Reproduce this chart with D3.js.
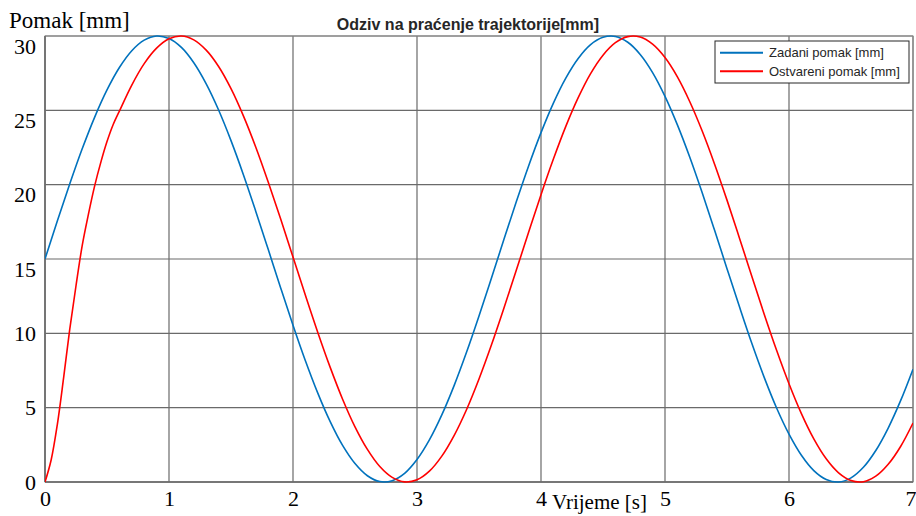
<!DOCTYPE html>
<html>
<head>
<meta charset="utf-8">
<script src="https://cdn.jsdelivr.net/npm/d3@7/dist/d3.min.js"></script>
<style>
  html, body { margin: 0; padding: 0; background: #fff; }
  svg { display: block; }
</style>
</head>
<body>
<svg id="chart" width="916" height="516"></svg>
<script>
// ---------- data ----------
const titleText = "Odziv na praćenje trajektorije[mm]";
const yLabelText = "Pomak [mm]";
const xLabelText = "Vrijeme [s]";
const seriesNames = ["Zadani pomak [mm]", "Ostvareni pomak [mm]"];
const xTicks = [0, 1, 2, 3, 4, 5, 6, 7];
const yTicks = [0, 5, 10, 15, 20, 25, 30];

// time grid of the set-point (step 0.1 s, 0 .. 7 s)
const timeZadani = d3.range(71).map(i => i / 10);
const zadani = [
  15.00, 17.57, 20.06, 22.41, 24.53, 26.37, 27.88, 29.01, 29.72, 30.00,
  29.83, 29.23, 28.20, 26.78, 25.02, 22.96, 20.67, 18.20, 15.65, 13.07,
  10.55, 8.16, 5.98, 4.06, 2.46, 1.24, 0.42, 0.03, 0.09, 0.58,
  1.51, 2.83, 4.51, 6.50, 8.74, 11.17, 13.71, 16.29, 18.83, 21.26,
  23.50, 25.49, 27.17, 28.49, 29.42, 29.91, 29.97, 29.58, 28.76, 27.54,
  25.94, 24.02, 21.84, 19.45, 16.93, 14.35, 11.80, 9.33, 7.04, 4.98,
  3.22, 1.80, 0.77, 0.17, 0.00, 0.28, 0.99, 2.12, 3.63, 5.47,
  7.59
];

// response: finer samples during the start-up transient, then 0.1 s
const timeOstvareni = [0, 0.05, 0.1, 0.15, 0.2, 0.25, 0.3, 0.35, 0.4, 0.45, 0.5, 0.55]
  .concat(d3.range(6, 71).map(i => i / 10));
const ostvareni = [
  0.00, 1.50, 3.90, 7.00, 10.30, 13.20, 15.90, 18.00, 19.90, 21.50, 22.90, 24.05,
  24.95, 26.70, 28.14, 29.18, 29.81, 30.00, 29.74, 29.05,
  27.95, 26.46, 24.63, 22.52, 20.18, 17.70, 15.13, 12.56, 10.06, 7.71,
  5.57, 3.71, 2.19, 1.04, 0.31, 0.01, 0.15, 0.73, 1.74, 3.14,
  4.88, 6.93, 9.21, 11.67, 14.23, 16.80, 19.33, 21.72, 23.92, 25.85,
  27.47, 28.71, 29.55, 29.96, 29.93, 29.45, 28.55, 27.25, 25.58, 23.61,
  21.38, 18.96, 16.42, 13.84, 11.29, 8.86, 6.61, 4.60, 2.90, 1.56,
  0.62, 0.10, 0.02, 0.39, 1.19, 2.39, 3.97
];

const colors = ["#0072BD", "#FF0000"];

// ---------- layout ----------
const W = 916;
const plot = { left: 45, right: 913, top: 36, bottom: 482 };

const svg = d3.select("#chart");

const x = d3.scaleLinear().domain([0, 7]).range([plot.left, plot.right]);
const y = d3.scaleLinear().domain([0, 30]).range([plot.bottom, plot.top]);

// grid
const grid = svg.append("g").attr("class", "grid");
grid.selectAll("line.v").data(xTicks).join("line")
  .attr("class", "v")
  .attr("x1", d => x(d)).attr("x2", d => x(d))
  .attr("y1", plot.top).attr("y2", plot.bottom)
  .attr("stroke", "#6a6a6a").attr("stroke-width", 1.2);
grid.selectAll("line.h").data(yTicks).join("line")
  .attr("class", "h")
  .attr("y1", d => y(d)).attr("y2", d => y(d))
  .attr("x1", plot.left).attr("x2", plot.right)
  .attr("stroke", "#6a6a6a").attr("stroke-width", 1.2);

// plot frame
svg.append("rect")
  .attr("x", plot.left).attr("y", plot.top)
  .attr("width", plot.right - plot.left).attr("height", plot.bottom - plot.top)
  .attr("fill", "none").attr("stroke", "#8a8a8a").attr("stroke-width", 1);
svg.append("line")
  .attr("x1", plot.left).attr("x2", plot.right)
  .attr("y1", plot.bottom).attr("y2", plot.bottom)
  .attr("stroke", "#6a6a6a").attr("stroke-width", 1.5);
svg.append("line")
  .attr("x1", plot.left).attr("x2", plot.left)
  .attr("y1", plot.top).attr("y2", plot.bottom)
  .attr("stroke", "#6a6a6a").attr("stroke-width", 1.5);

// axes (tick labels only, via d3 axes)
const xAxis = svg.append("g")
  .attr("transform", `translate(0,${plot.bottom})`)
  .call(d3.axisBottom(x).tickValues(xTicks).tickFormat(d3.format("d")).tickSize(0).tickPadding(8));
xAxis.select(".domain").remove();
xAxis.selectAll("text")
  .attr("font-family", "'Liberation Serif', 'Times New Roman', serif")
  .attr("font-size", 22).attr("fill", "#000").attr("dy", "0.71em");
// keep the last label inside the page
xAxis.selectAll(".tick").filter(d => d === xTicks[xTicks.length - 1]).select("text")
  .attr("text-anchor", "end").attr("x", W - plot.right);

const yAxis = svg.append("g")
  .attr("transform", `translate(${plot.left},0)`)
  .call(d3.axisLeft(y).tickValues(yTicks).tickFormat(d3.format("d")).tickSize(0).tickPadding(9));
yAxis.select(".domain").remove();
yAxis.selectAll("text")
  .attr("font-family", "'Liberation Serif', 'Times New Roman', serif")
  .attr("font-size", 22).attr("fill", "#000")
  // upper labels hang below their grid line, lower ones are centred on it
  .attr("dy", d => d >= 15 ? "0.78em" : "0.32em");

// clip
svg.append("clipPath").attr("id", "clip")
  .append("rect")
  .attr("x", plot.left).attr("y", plot.top - 2)
  .attr("width", plot.right - plot.left).attr("height", plot.bottom - plot.top + 4);

const line = d3.line()
  .x(d => x(d[0])).y(d => y(d[1]))
  .curve(d3.curveCatmullRom.alpha(0.5));

const series = [
  d3.zip(timeZadani, zadani),
  d3.zip(timeOstvareni, ostvareni)
];

svg.append("g").attr("clip-path", "url(#clip)")
  .selectAll("path").data(series).join("path")
  .attr("d", line)
  .attr("fill", "none")
  .attr("stroke", (d, i) => colors[i])
  .attr("stroke-width", 1.6);

// title
svg.append("text")
  .attr("x", 468).attr("y", 30)
  .attr("text-anchor", "middle")
  .attr("font-family", "'Liberation Sans', Arial, sans-serif")
  .attr("font-weight", "bold").attr("font-size", 16)
  .attr("fill", "#262626")
  .text(titleText);

// y label
svg.append("text")
  .attr("x", 9).attr("y", 28)
  .attr("font-family", "'Liberation Serif', 'Times New Roman', serif")
  .attr("font-size", 23).attr("fill", "#000")
  .text(yLabelText);

// x label
svg.append("text")
  .attr("x", 552).attr("y", 509)
  .attr("font-family", "'Liberation Serif', 'Times New Roman', serif")
  .attr("font-size", 21).attr("fill", "#000")
  .text(xLabelText);

// legend
const lg = svg.append("g").attr("transform", "translate(715,41)");
lg.append("rect")
  .attr("width", 194).attr("height", 42)
  .attr("fill", "#fff").attr("stroke", "#262626").attr("stroke-width", 1);
const rows = lg.selectAll("g.row").data(seriesNames).join("g")
  .attr("class", "row")
  .attr("transform", (d, i) => `translate(0,${11.7 + i * 18.6})`);
rows.append("line")
  .attr("x1", 5).attr("x2", 48)
  .attr("stroke", (d, i) => colors[i]).attr("stroke-width", 2);
rows.append("text")
  .attr("x", 54).attr("dy", "0.35em")
  .attr("font-family", "'Liberation Sans', Arial, sans-serif")
  .attr("font-size", 13).attr("fill", "#262626")
  .text(d => d);
</script>
</body>
</html>
